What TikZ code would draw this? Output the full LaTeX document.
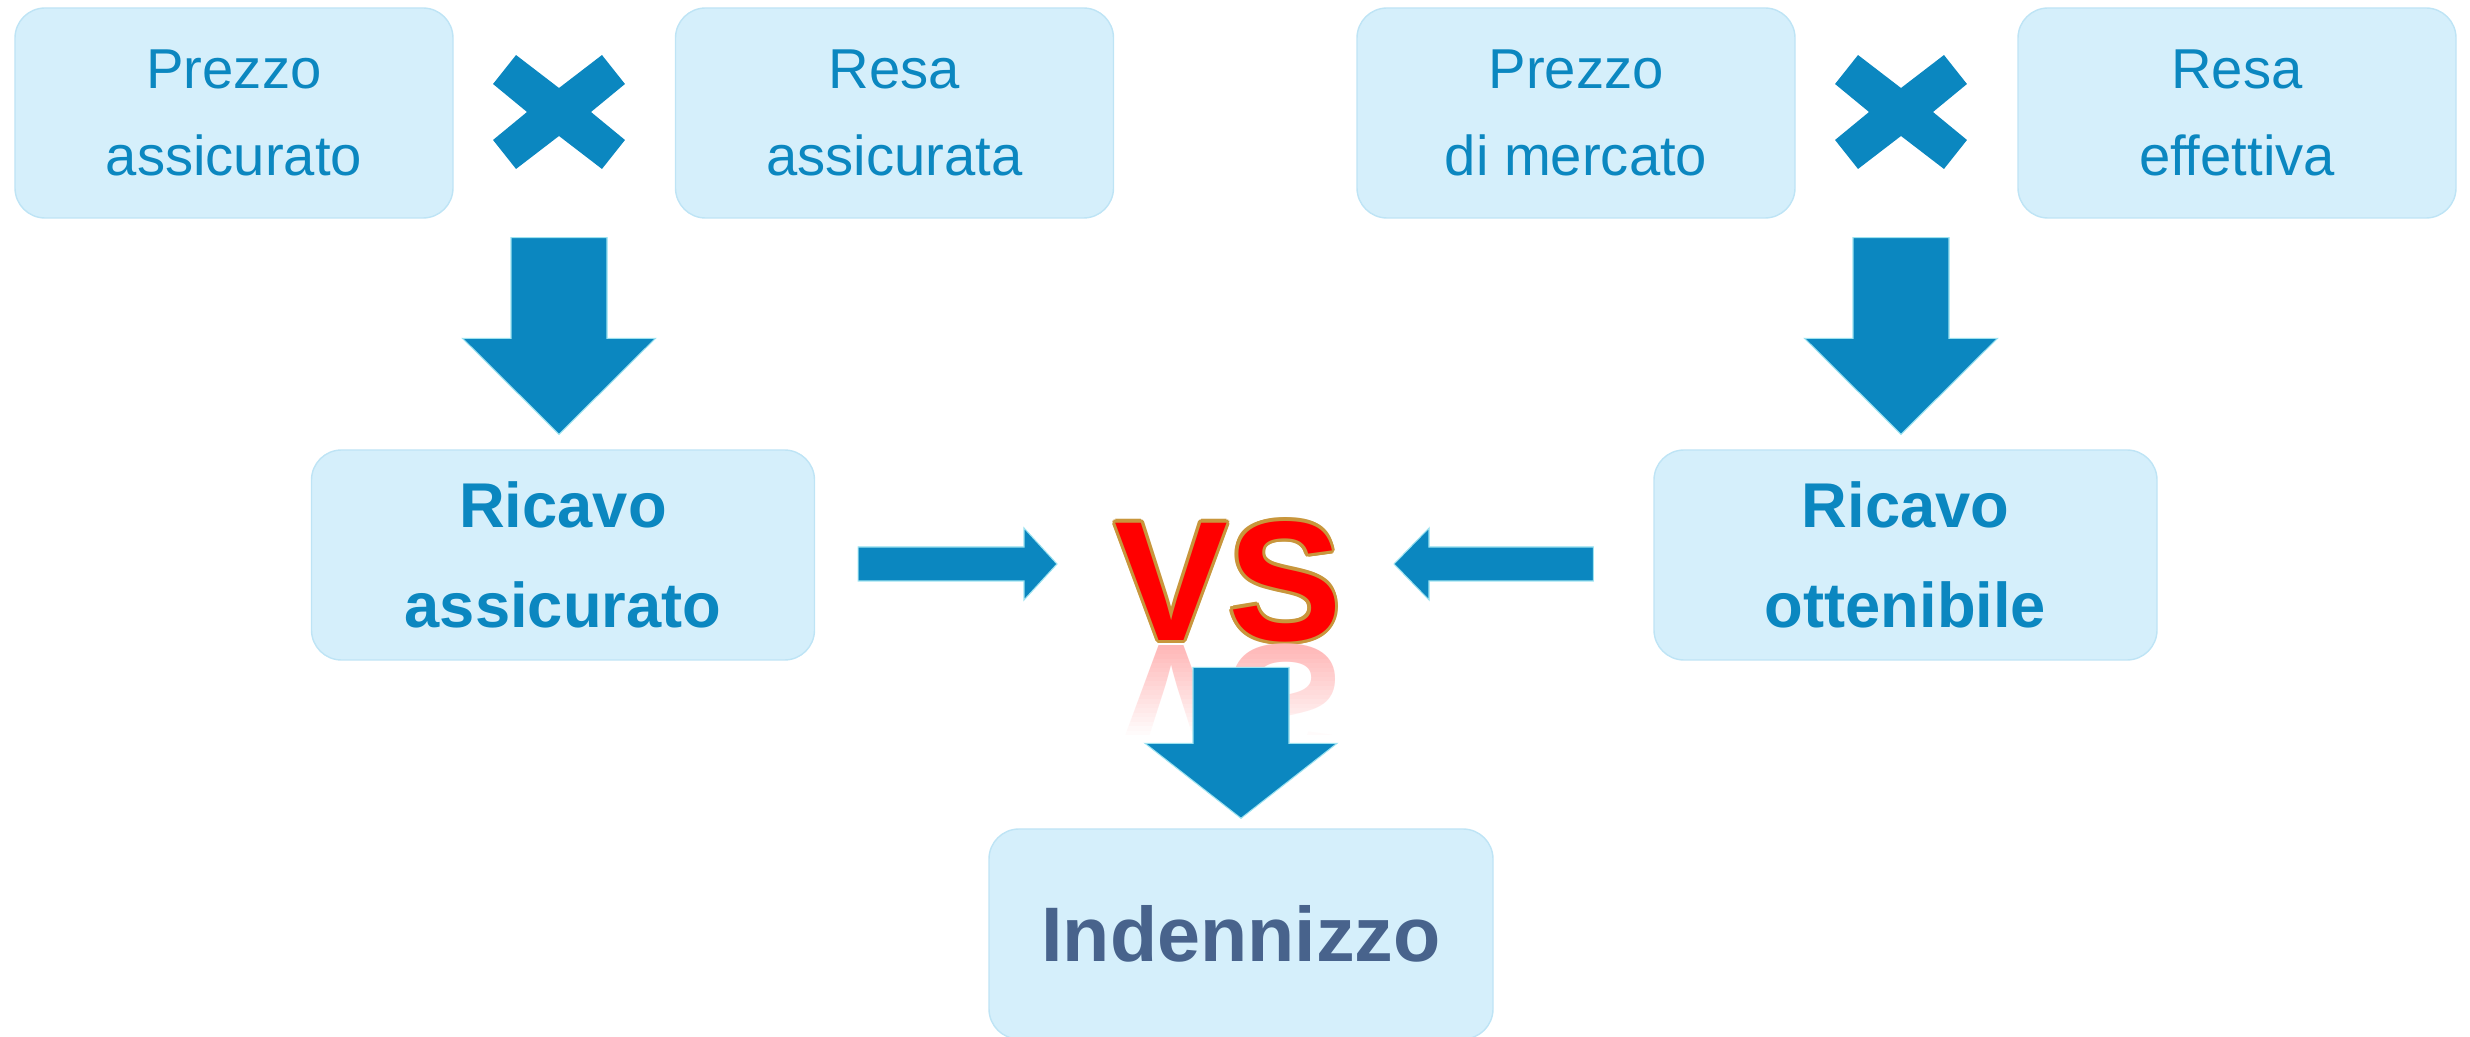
\documentclass[tikz,border=0pt]{standalone}
\usepackage{fontspec}
\setmainfont{Liberation Sans}
\usepackage[copies]{contour}
\usetikzlibrary{calc,positioning}
\definecolor{boxcolor}{RGB}{213,239,251}
\definecolor{boxline}{RGB}{190,228,245}
\definecolor{lettercolor}{RGB}{11,135,192}
\definecolor{indcolor}{RGB}{72,99,140}
\definecolor{vsline}{RGB}{200,150,60}
\contourlength{0.9pt}
\tikzset{
	block/.style={
		rectangle,
		rounded corners=0.3cm,
		draw=boxline,
		fill=boxcolor,
		minimum height=2.1cm,
		text=lettercolor,
		align=center
	},
	factor/.style={
		block,
		minimum width=4.38cm,
		font=\fontsize{16}{25}\selectfont
	},
	revenue/.style={
		block,
		minimum width=5.03cm,
		font=\bfseries\fontsize{18}{28.5}\selectfont
	},
	payout/.style={
		block,
		minimum width=5.04cm,
		text=indcolor,
		font=\bfseries\fontsize{22}{26}\selectfont
	},
	fatarrow/.style={
		fill=lettercolor,
		draw=lettercolor!60!cyan!40,
		line width=0.3pt
	},
	versus/.style={
		inner sep=0pt,
		font=\bfseries\fontsize{48.5}{50}\selectfont
	},
	timesmark/.pic={
		\fill[lettercolor, scale=0.01] (-43,57) -- (0,24) -- (43,57) -- (66,28) -- (32,0)
			-- (66,-28) -- (43,-57) -- (0,-24) -- (-43,-57) -- (-66,-28) -- (-32,0) -- (-66,28) -- cycle;
	}
}
% block arrows: start, tip, half shaft, half head, head length
\newcommand{\fatdown}[5]{%
	\filldraw[fatarrow] let \p1=(#1), \p2=(#2) in
		({\x1-#3},\y1) -- ({\x1+#3},\y1) -- ({\x1+#3},{\y2+#5}) -- ({\x1+#4},{\y2+#5})
		-- (\x1,\y2) -- ({\x1-#4},{\y2+#5}) -- ({\x1-#3},{\y2+#5}) -- cycle;}
\newcommand{\fatside}[5]{%
	\filldraw[fatarrow] let \p1=(#1), \p2=(#2) in
		(\x1,{\y1-#3}) -- ({\x2-(#5)},{\y1-#3}) -- ({\x2-(#5)},{\y1-#4}) -- (\x2,\y1)
		-- ({\x2-(#5)},{\y1+#4}) -- ({\x2-(#5)},{\y1+#3}) -- (\x1,{\y1+#3}) -- cycle;}

\begin{document}
\begin{tikzpicture}
		\useasboundingbox (0,0) rectangle (24.7,-10.37);
		\node (prezzoA) [factor] at (2.34,-1.13) {Prezzo\\assicurato};
		\node (resaA) [factor] at (8.945,-1.13) {Resa\\assicurata};
		\node (prezzoM) [factor] at (15.76,-1.13) {Prezzo\\di mercato};
		\node (resaE) [factor] at (22.37,-1.13) {Resa\\effettiva};
		\coordinate (timesL) at (5.59,-1.12);
		\coordinate (timesR) at (19.01,-1.12);
		\pic at (timesL) {timesmark};
		\pic at (timesR) {timesmark};
		
		\node (ricavoA) [revenue] at (5.63,-5.55) {Ricavo\\assicurato};
		\node (ricavoO) [revenue] at (19.055,-5.55) {Ricavo\\ottenibile};
		\node (vs) [versus] at (12.28,-5.83) {\contour{vsline}{\textcolor{red}{VS}}};
		% reflection, faded out with white strips
		\node (mirror) [versus, text=red!28, yscale=-1, transform shape, anchor=base] at ($(vs.base)+(0,-0.05)$) {VS};
		\foreach \i in {0,...,24}
			\fill[white, opacity=\i/20] ($(vs.base)+(-1.3,-0.05-0.045*\i)$) rectangle ++(2.6,-0.046);
		\fill[white] ($(vs.base)+(-1.3,-1.17)$) rectangle ++(2.6,-0.3);
		\node (indennizzo) [payout] at (12.41,-9.34) {Indennizzo};
		
		\fatdown{$(timesL |- prezzoA.south)+(0,-0.19)$}{$(timesL |- ricavoA.north)+(0,0.15)$}{0.48cm}{0.965cm}{0.96cm}
		\fatdown{$(timesR |- prezzoM.south)+(0,-0.19)$}{$(timesR |- ricavoO.north)+(0,0.15)$}{0.48cm}{0.965cm}{0.96cm}
		\fatside{$(ricavoA.east)+(0.43,-0.09)$}{$(vs.center)+(-1.71,0.19)$}{0.17cm}{0.36cm}{0.33cm}
		\fatside{$(ricavoO.west)+(-0.60,-0.09)$}{$(vs.center)+(1.66,0.19)$}{0.17cm}{0.36cm}{-0.35cm}
		\fatdown{$(indennizzo.north)+(0,1.61)$}{$(indennizzo.north)+(0,0.10)$}{0.48cm}{0.96cm}{0.75cm}
		
\end{tikzpicture}
\end{document}
